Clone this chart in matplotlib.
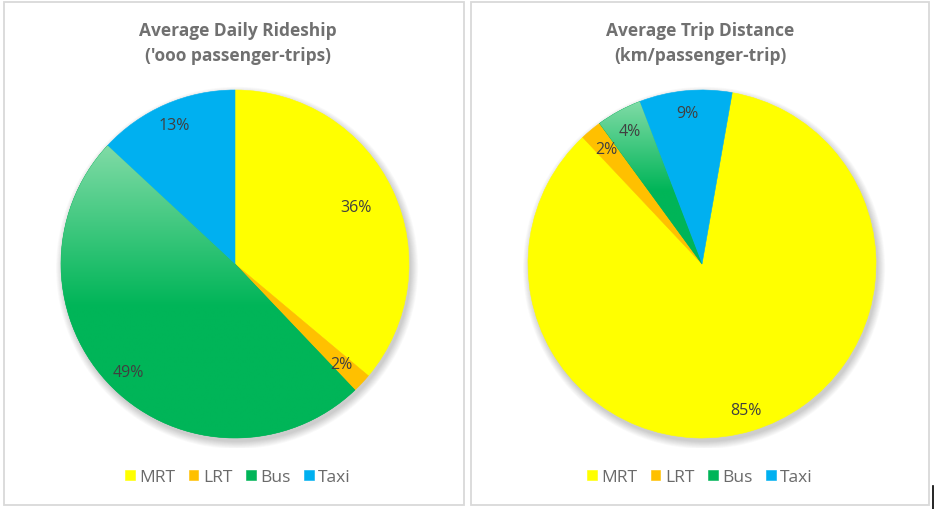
import matplotlib
matplotlib.use('Agg')
import matplotlib.pyplot as plt
import numpy as np
from matplotlib.patches import Rectangle, Circle
from matplotlib.lines import Line2D
from matplotlib.colors import to_rgb

# ---------------- data ----------------
categories = ['MRT', 'LRT', 'Bus', 'Taxi']
ridership = [2762, 137, 3751, 1000]          # '000 passenger-trips
trip_distance = [85.2, 2.0, 4.2, 8.6]        # share of km/passenger-trip
title_left = ["Average Daily Rideship", "('ooo passenger-trips)"]
title_right = ["Average Trip Distance", "(km/passenger-trip)"]

colors = ['#FFFF00', '#FFC000', '#00B558', '#00B0F0']
bus_light = '#80DBA6'

plt.rcParams['font.family'] = ['Open Sans', 'DejaVu Sans']

W, H = 934, 510
fig = plt.figure(figsize=(W / 100, H / 100), dpi=100)
fig.patch.set_facecolor('white')

# panel borders
for (x0, x1) in [(4, 464), (471, 929)]:
    fig.patches.append(Rectangle((x0 / W, 1 - 506 / H), (x1 - x0) / W, (506 - 3) / H,
                                 transform=fig.transFigure, fill=False,
                                 edgecolor='#D9D9D9', linewidth=1.3))
fig.lines.append(Line2D([933 / W, 933 / W], [0, 1 - 487 / H], transform=fig.transFigure,
                        color='black', linewidth=1.2))


def draw_panel(cx, cy, r, values, startangle, title, label_r, legend_cx):
    L = 1.06
    ax = fig.add_axes([(cx - r * L) / W, 1 - (cy + r * L) / H, 2 * r * L / W, 2 * r * L / H])
    # soft shadow
    for i in range(10):
        ax.add_patch(Circle((0.012, -0.022), 1.0 + i * 0.0045, facecolor='black',
                            edgecolor='none', alpha=0.018, zorder=0))
    wedges, _ = ax.pie(values, colors=colors, startangle=startangle, counterclock=False,
                       radius=1, wedgeprops=dict(linewidth=0.4))
    for w in wedges:
        w.set_zorder(2)
        w.set_edgecolor(w.get_facecolor())
    # gradient on bus slice
    bw = wedges[2]
    ext = bw.get_path().get_extents()
    t = np.linspace(0, 1, 256)
    s = np.clip(t / 0.55, 0, 1)[:, None]
    c1 = np.array(to_rgb(bus_light))
    c2 = np.array(to_rgb(colors[2]))
    arr = (c1 * (1 - s) + c2 * s)[:, None, :]
    arr = np.repeat(arr, 2, axis=1)
    im = ax.imshow(arr, extent=[ext.x0, ext.x1, ext.y0, ext.y1], origin='upper',
                   zorder=2.5, aspect='auto', interpolation='bilinear')
    im.set_clip_path(bw)
    total = sum(values)
    for w, v, lr in zip(wedges, values, label_r):
        mid = np.deg2rad((w.theta1 + w.theta2) / 2)
        ax.text(lr * np.cos(mid), lr * np.sin(mid), f"{round(100 * v / total)}%",
                ha='center', va='center', fontsize=11.5, color='#404040', zorder=5)
    ax.set_xlim(-L, L)
    ax.set_ylim(-L, L)
    ax.set_aspect('equal')
    ax.set_axis_off()
    fig.text(legend_cx / W, 1 - 31 / H, title[0], ha='center', va='center',
             fontsize=12.5, fontweight='bold', color='#707070')
    fig.text(legend_cx / W, 1 - 56 / H, title[1], ha='center', va='center',
             fontsize=12.5, fontweight='bold', color='#707070')
    ax.legend(wedges, categories, loc='center', bbox_to_anchor=(legend_cx / W, 1 - 478 / H),
              bbox_transform=fig.transFigure, ncol=4, frameon=False,
              handlelength=0.55, handleheight=0.55, handletextpad=0.25,
              columnspacing=0.8, fontsize=12.5, labelcolor='#6A6A6A')
    return ax


draw_panel(235, 265, 174, ridership, 90, title_left, [0.77, 0.84, 0.87, 0.87], 238)
draw_panel(702, 265, 174, trip_distance, 80, title_right, [0.875, 0.86, 0.87, 0.87], 700)

fig.savefig('out.png', dpi=100, facecolor='white')
